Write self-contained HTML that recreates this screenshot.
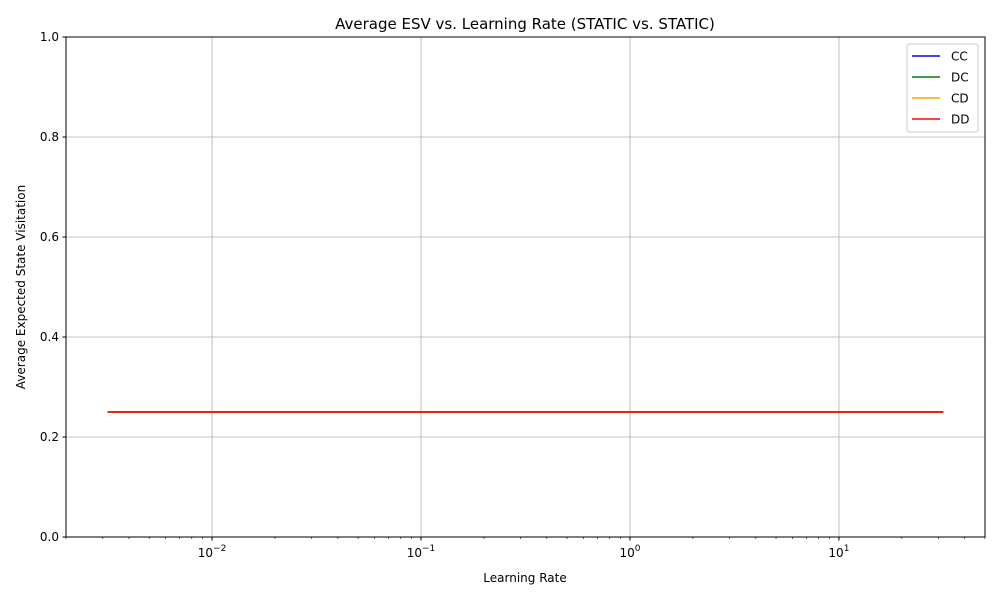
<!DOCTYPE html>
<html><head><meta charset="utf-8"><style>
body{margin:0;background:#fff;font-family:"Liberation Sans","DejaVu Sans",sans-serif;}
svg text{font-family:"DejaVu Sans","Liberation Sans",sans-serif;}
</style></head><body>
<svg id="chart" width="1000" height="600" xmlns="http://www.w3.org/2000/svg">
<rect width="1000" height="600" fill="#fff"/>
<g id="grid"></g>
<g id="series"></g>
<rect x="66" y="37" width="919" height="500" fill="none" stroke="#000" stroke-width="1"/>
<g id="ticks"></g>
<text x="525" y="29" text-anchor="middle" font-size="15">Average ESV vs. Learning Rate (STATIC vs. STATIC)</text>
<text x="525" y="582" text-anchor="middle" font-size="12">Learning Rate</text>
<text transform="translate(25,287) rotate(-90)" text-anchor="middle" font-size="12">Average Expected State Visitation</text>
<g id="legend">
<rect x="907" y="44" width="71" height="88" fill="#fff" fill-opacity="0.8" stroke="#ccc" rx="2"/>
</g>
</svg>
<script>
const learningRates=[0.00316,0.01,0.0316,0.1,0.316,1,3.16,10,31.6];
const seriesNames=["CC","DC","CD","DD"];
const seriesColors=["blue","green","orange","red"];
const ccValues=[0.25,0.25,0.25,0.25,0.25,0.25,0.25,0.25,0.25];
const dcValues=[0.25,0.25,0.25,0.25,0.25,0.25,0.25,0.25,0.25];
const cdValues=[0.25,0.25,0.25,0.25,0.25,0.25,0.25,0.25,0.25];
const ddValues=[0.25,0.25,0.25,0.25,0.25,0.25,0.25,0.25,0.25];
const yTicks=[0,0.2,0.4,0.6,0.8,1.0];
const xMajor=[-2,-1,0,1];
const NS="http://www.w3.org/2000/svg";
const L=66,R=985,T=37,B=537,xmin=Math.log10(0.002),xmax=Math.log10(50);
const X=v=>L+(Math.log10(v)-xmin)/(xmax-xmin)*(R-L);
const Y=v=>B-v*(B-T);
function mk(p,tag,a){const e=document.createElementNS(NS,tag);for(const k in a)e.setAttribute(k,a[k]);p.appendChild(e);return e;}
const grid=document.getElementById('grid'),ticks=document.getElementById('ticks');
yTicks.forEach(t=>{const y=Y(t);
const g=mk(grid,'line',{x1:L,x2:R,y1:y,y2:y,stroke:'#b0b0b0','stroke-width':0.8});


mk(ticks,'line',{x1:L-3.5,x2:L,y1:y,y2:y,stroke:'#000'});
const tx=mk(ticks,'text',{x:L-7,y:y+4,'text-anchor':'end','font-size':12});tx.textContent=t.toFixed(1);

});
for(let d=-3;d<=1;d++){for(let m=1;m<10;m++){const v=m*Math.pow(10,d);if(v<0.002||v>50)continue;const x=X(v);
if(m===1){const g=mk(grid,'line',{x1:x,x2:x,y1:T,y2:B,stroke:'#b0b0b0','stroke-width':0.8});


mk(ticks,'line',{x1:x,x2:x,y1:B,y2:B+3.5,stroke:'#000'});
const tx=mk(ticks,'text',{x:x,y:B+20,'text-anchor':'middle','font-size':12});
tx.innerHTML='10<tspan dy="-6" font-size="9">'+(d<0?'\u2212'+(-d):d)+'</tspan>';

}
else mk(ticks,'line',{x1:x,x2:x,y1:B,y2:B+2,stroke:'#000','stroke-width':0.6});}}
const ser=document.getElementById('series');
[ccValues,dcValues,cdValues,ddValues].forEach((vals,i)=>{
const pts=learningRates.map((r,j)=>X(r).toFixed(1)+','+Y(vals[j]).toFixed(1)).join(' ');
const p=mk(ser,'polyline',{points:pts,fill:'none',stroke:seriesColors[i],'stroke-width':1.5});

});
const lg=document.getElementById('legend');
seriesNames.forEach((n,i)=>{const y=56+i*21;
mk(lg,'line',{x1:912,x2:940,y1:y,y2:y,stroke:seriesColors[i],'stroke-width':1.5});
const t=mk(lg,'text',{x:951,y:y+4.5,'font-size':12});t.textContent=n;

});
</script>
</body></html>
